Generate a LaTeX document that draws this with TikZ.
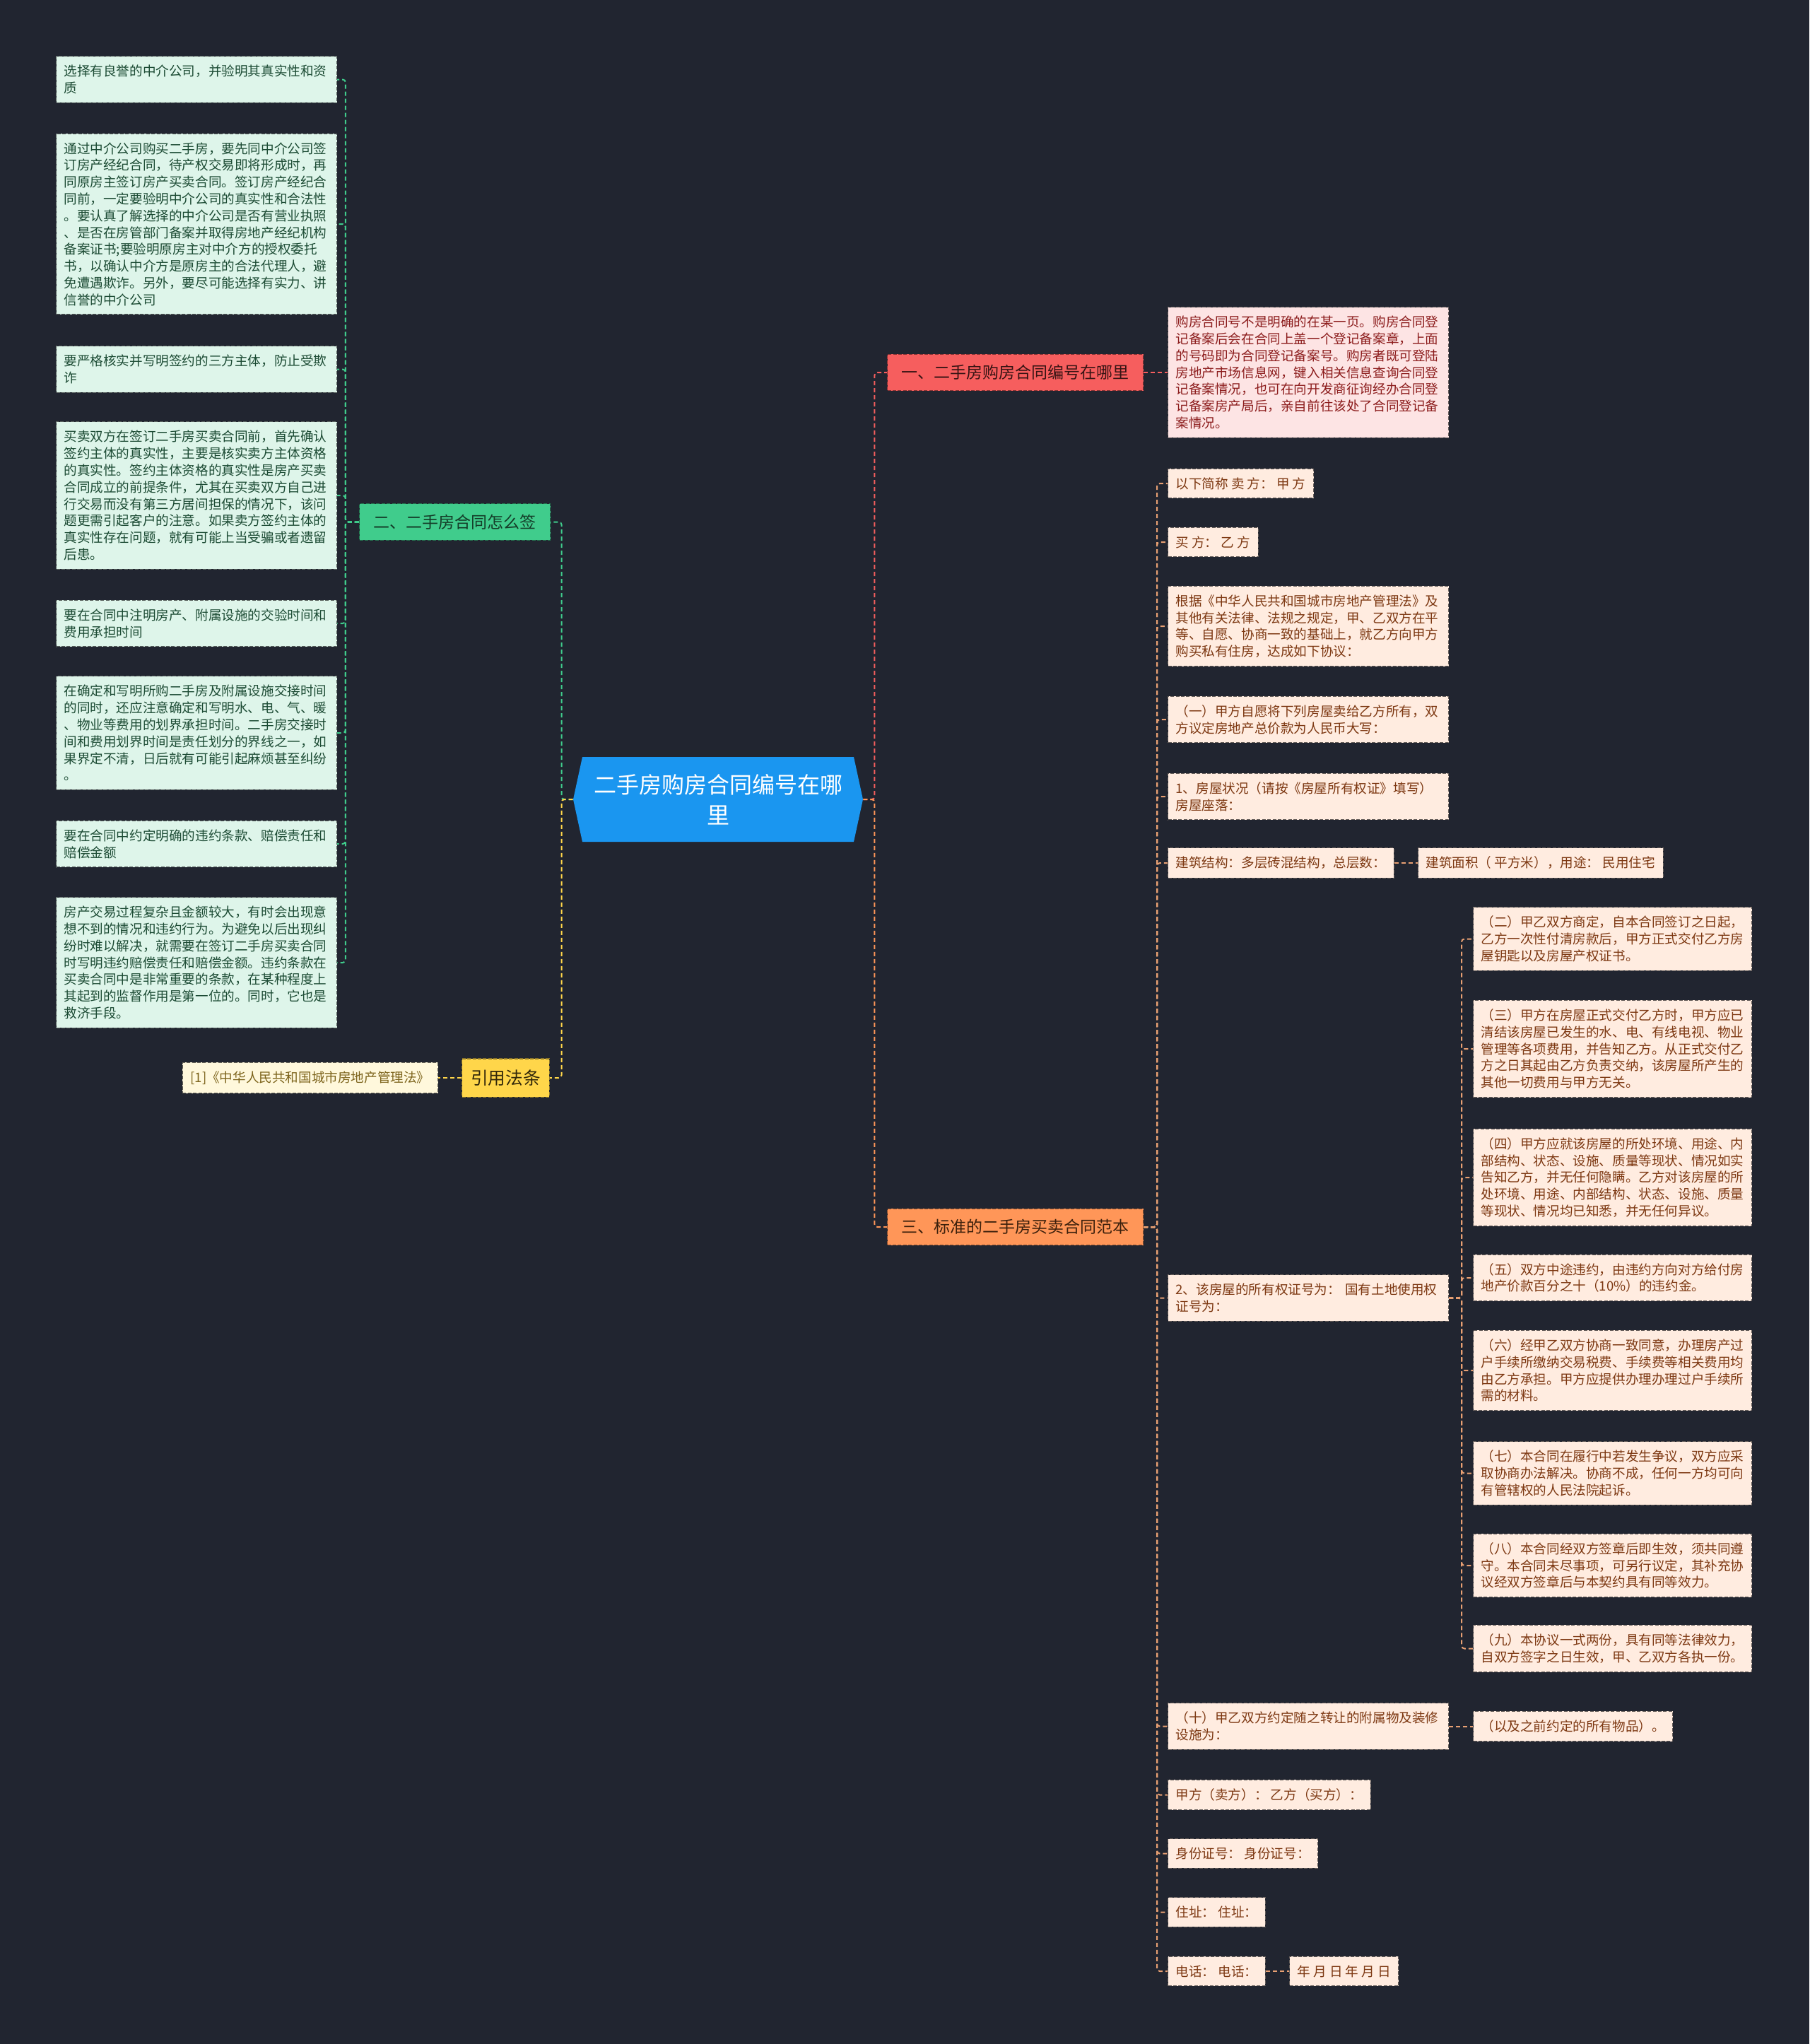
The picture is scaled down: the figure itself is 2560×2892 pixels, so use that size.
\documentclass[tikz,border=0pt]{standalone}
\usepackage{fontspec}
\setmainfont{Noto Sans CJK SC}
\definecolor{bgnavy}{RGB}{33,37,48}
\definecolor{rootblue}{RGB}{26,150,240}
\definecolor{redbranch}{RGB}{246,94,94}
\definecolor{greenbranch}{RGB}{64,204,140}
\definecolor{orangebranch}{RGB}{255,150,88}
\definecolor{yellowbranch}{RGB}{255,214,74}
\definecolor{pinkfill}{RGB}{253,228,228}
\definecolor{pinktext}{RGB}{140,28,28}
\definecolor{mintfill}{RGB}{222,245,234}
\definecolor{minttext}{RGB}{28,75,52}
\definecolor{peachfill}{RGB}{255,236,224}
\definecolor{peachtext}{RGB}{125,56,18}
\definecolor{peachline}{RGB}{232,160,115}
\definecolor{creamfill}{RGB}{255,248,220}
\definecolor{creamtext}{RGB}{125,100,28}
\newcommand{\leaffont}{\fontsize{9.3pt}{11.9pt}\selectfont}
\newcommand{\branchfont}{\fontsize{11.5pt}{14pt}\selectfont}
\newcommand{\rootfont}{\fontsize{16pt}{21.5pt}\selectfont}
\newcommand{\lawfont}{\fontsize{12.3pt}{15pt}\selectfont}

\begin{document}
\begin{tikzpicture}[x=0.5pt, y=-0.5pt]
    % Define styles
    \tikzstyle{leaf}=[rectangle, line width=0.5pt, dash pattern=on 2.5pt off 1.2pt, inner xsep=5.5pt, inner ysep=6.1pt, align=left, anchor=west, font=\leaffont]
    \tikzstyle{wide}=[leaf, text width=187.5pt]
    \tikzstyle{subwide}=[leaf, text width=186pt]
    \tikzstyle{gleaf}=[fill=mintfill, draw=mintfill!40!black, text=minttext]
    \tikzstyle{rleaf}=[fill=pinkfill, draw=pinkfill!40!black, text=pinktext]
    \tikzstyle{oleaf}=[fill=peachfill, draw=peachfill!40!black, text=peachtext]
    \tikzstyle{yleaf}=[fill=creamfill, draw=creamfill!40!black, text=creamtext]
    \tikzstyle{branch}=[rectangle, line width=0.6pt, dash pattern=on 2.5pt off 1.2pt, inner xsep=10pt, inner ysep=7.5pt, font=\branchfont]
    \tikzstyle{root}=[rectangle, minimum width=205pt, minimum height=60pt, text width=180pt, align=center, inner sep=0pt, text=white, font=\rootfont,
        path picture={\fill[rootblue] (path picture bounding box.west) -- ([xshift=6.5pt]path picture bounding box.north west) -- ([xshift=-6.5pt]path picture bounding box.north east) -- (path picture bounding box.east) -- ([xshift=-6.5pt]path picture bounding box.south east) -- ([xshift=6.5pt]path picture bounding box.south west) -- cycle;}]
    \tikzstyle{link}=[line width=1pt, dash pattern=on 3pt off 2pt, rounded corners=2pt]

    % Background
    \useasboundingbox (0,0) rectangle (2560,2892);
    \fill[bgnavy] (0,0) rectangle (2560,2892);

    % Centre and main branches
    \node[root] at (1016,1131) (root) {二手房购房合同编号在哪\\里};
    \node[branch, fill=redbranch, draw=redbranch!55!black, text={rgb,255:red,55;green,20;blue,20}] at (1436.5,527) (b1) {一、二手房购房合同编号在哪里};
    \node[branch, fill=greenbranch, draw=greenbranch!55!black, text={rgb,255:red,20;green,60;blue,40}] at (643.5,738.5) (b2) {二、二手房合同怎么签};
    \node[branch, fill=orangebranch, draw=orangebranch!55!black, text={rgb,255:red,60;green,32;blue,12}] at (1436.5,1736) (b3) {三、标准的二手房买卖合同范本};
    \node[branch, fill=yellowbranch, draw=yellowbranch!55!black, text={rgb,255:red,50;green,40;blue,10}, font=\lawfont, inner xsep=6.25pt, inner ysep=7.85pt] at (715.5,1525) (law) {引用法条};

    % Branch one
    \node[wide, rleaf] at (1652,527) (p1) {购房合同号不是明确的在某一页。购房合同登\\记备案后会在合同上盖一个登记备案章，上面\\的号码即为合同登记备案号。购房者既可登陆\\房地产市场信息网，键入相关信息查询合同登\\记备案情况，也可在向开发商征询经办合同登\\记备案房产局后，亲自前往该处了合同登记备\\案情况。};

    % Branch two
    \node[wide, gleaf] at (79,112.5) (g1) {选择有良誉的中介公司，并验明其真实性和资\\质};
    \node[wide, gleaf] at (79,317) (g2) {通过中介公司购买二手房，要先同中介公司签\\订房产经纪合同，待产权交易即将形成时，再\\同原房主签订房产买卖合同。签订房产经纪合\\同前，一定要验明中介公司的真实性和合法性\\。要认真了解选择的中介公司是否有营业执照\\、是否在房管部门备案并取得房地产经纪机构\\备案证书;要验明原房主对中介方的授权委托\\书，以确认中介方是原房主的合法代理人，避\\免遭遇欺诈。另外，要尽可能选择有实力、讲\\信誉的中介公司};
    \node[wide, gleaf] at (79,522.5) (g3) {要严格核实并写明签约的三方主体，防止受欺\\诈};
    \node[wide, gleaf] at (79,701) (g4) {买卖双方在签订二手房买卖合同前，首先确认\\签约主体的真实性，主要是核实卖方主体资格\\的真实性。签约主体资格的真实性是房产买卖\\合同成立的前提条件，尤其在买卖双方自己进\\行交易而没有第三方居间担保的情况下，该问\\题更需引起客户的注意。如果卖方签约主体的\\真实性存在问题，就有可能上当受骗或者遗留\\后患。};
    \node[wide, gleaf] at (79,882) (g5) {要在合同中注明房产、附属设施的交验时间和\\费用承担时间};
    \node[wide, gleaf] at (79,1037) (g6) {在确定和写明所购二手房及附属设施交接时间\\的同时，还应注意确定和写明水、电、气、暖\\、物业等费用的划界承担时间。二手房交接时\\间和费用划界时间是责任划分的界线之一，如\\果界定不清，日后就有可能引起麻烦甚至纠纷\\。};
    \node[wide, gleaf] at (79,1194) (g7) {要在合同中约定明确的违约条款、赔偿责任和\\赔偿金额};
    \node[wide, gleaf] at (79,1362) (g8) {房产交易过程复杂且金额较大，有时会出现意\\想不到的情况和违约行为。为避免以后出现纠\\纷时难以解决，就需要在签订二手房买卖合同\\时写明违约赔偿责任和赔偿金额。违约条款在\\买卖合同中是非常重要的条款，在某种程度上\\其起到的监督作用是第一位的。同时，它也是\\救济手段。};

    % Quoted law
    \node[leaf, yleaf, anchor=east] at (620,1525) (lawc) {[1]《中华人民共和国城市房地产管理法》};

    % Branch three
    \node[leaf, oleaf] at (1652,684) (c1) {以下简称 卖 方：  甲 方};
    \node[leaf, oleaf] at (1652,767) (c2) {买 方：  乙 方};
    \node[wide, oleaf] at (1652,886) (c3) {根据《中华人民共和国城市房地产管理法》及\\其他有关法律、法规之规定，甲、乙双方在平\\等、自愿、协商一致的基础上，就乙方向甲方\\购买私有住房，达成如下协议：};
    \node[wide, oleaf] at (1652,1018) (c4) {（一）甲方自愿将下列房屋卖给乙方所有，双\\方议定房地产总价款为人民币大写：};
    \node[wide, oleaf] at (1652,1127) (c5) {1、房屋状况（请按《房屋所有权证》填写）\\房屋座落：};
    \node[leaf, oleaf] at (1652,1221) (c6) {建筑结构：多层砖混结构，总层数：};
    \node[leaf, oleaf] at (2006,1221) (c6a) {建筑面积（ 平方米），用途： 民用住宅};
    \node[wide, oleaf] at (1652,1836.5) (c7) {2、该房屋的所有权证号为： 国有土地使用权\\证号为：};
    \node[subwide, oleaf] at (2084,1328.5) (s2) {（二）甲乙双方商定，自本合同签订之日起，\\乙方一次性付清房款后，甲方正式交付乙方房\\屋钥匙以及房屋产权证书。};
    \node[subwide, oleaf] at (2084,1484) (s3) {（三）甲方在房屋正式交付乙方时，甲方应已\\清结该房屋已发生的水、电、有线电视、物业\\管理等各项费用，并告知乙方。从正式交付乙\\方之日其起由乙方负责交纳，该房屋所产生的\\其他一切费用与甲方无关。};
    \node[subwide, oleaf] at (2084,1666) (s4) {（四）甲方应就该房屋的所处环境、用途、内\\部结构、状态、设施、质量等现状、情况如实\\告知乙方，并无任何隐瞒。乙方对该房屋的所\\处环境、用途、内部结构、状态、设施、质量\\等现状、情况均已知悉，并无任何异议。};
    \node[subwide, oleaf] at (2084,1808) (s5) {（五）双方中途违约，由违约方向对方给付房\\地产价款百分之十（10\%）的违约金。};
    \node[subwide, oleaf] at (2084,1939) (s6) {（六）经甲乙双方协商一致同意，办理房产过\\户手续所缴纳交易税费、手续费等相关费用均\\由乙方承担。甲方应提供办理办理过户手续所\\需的材料。};
    \node[subwide, oleaf] at (2084,2084.5) (s7) {（七）本合同在履行中若发生争议，双方应采\\取协商办法解决。协商不成，任何一方均可向\\有管辖权的人民法院起诉。};
    \node[subwide, oleaf] at (2084,2215) (s8) {（八）本合同经双方签章后即生效，须共同遵\\守。本合同未尽事项，可另行议定，其补充协\\议经双方签章后与本契约具有同等效力。};
    \node[subwide, oleaf] at (2084,2332.5) (s9) {（九）本协议一式两份，具有同等法律效力，\\自双方签字之日生效，甲、乙双方各执一份。};
    \node[wide, oleaf] at (1652,2442.5) (c8) {（十）甲乙双方约定随之转让的附属物及装修\\设施为：};
    \node[leaf, oleaf] at (2084,2442.5) (c8a) {（以及之前约定的所有物品）。};
    \node[leaf, oleaf] at (1652,2539.5) (c9) {甲方（卖方）： 乙方（买方）：};
    \node[leaf, oleaf] at (1652,2622.5) (c10) {身份证号： 身份证号：};
    \node[leaf, oleaf] at (1652,2705.5) (c11) {住址： 住址：};
    \node[leaf, oleaf] at (1652,2789) (c12) {电话： 电话：};
    \node[leaf, oleaf] at (1824,2789) (c12a) {年 月 日 年 月 日};

    % Connectors from the centre
    \draw[link, draw=redbranch] (root.east) -- ++(16,0) |- (b1.west);
    \draw[link, draw=orangebranch] (root.east) -- ++(16,0) |- (b3.west);
    \draw[link, draw=greenbranch] (root.west) -- ++(-16,0) |- (b2.east);
    \draw[link, draw=yellowbranch] (root.west) -- ++(-16,0) |- (law.east);

    % Connectors of the branches
    \draw[link, draw=redbranch] (b1.east) -- (p1.west);
    \draw[link, draw=yellowbranch] (law.west) -- (lawc.east);
    \draw[link, draw=greenbranch] (b2.west) -- ++(-19,0) |- (g1.east);
    \draw[link, draw=greenbranch] (b2.west) -- ++(-19,0) |- (g2.east);
    \draw[link, draw=greenbranch] (b2.west) -- ++(-19,0) |- (g3.east);
    \draw[link, draw=greenbranch] (b2.west) -- ++(-19,0) |- (g4.east);
    \draw[link, draw=greenbranch] (b2.west) -- ++(-19,0) |- (g5.east);
    \draw[link, draw=greenbranch] (b2.west) -- ++(-19,0) |- (g6.east);
    \draw[link, draw=greenbranch] (b2.west) -- ++(-19,0) |- (g7.east);
    \draw[link, draw=greenbranch] (b2.west) -- ++(-19,0) |- (g8.east);
    \draw[link, draw=peachline] (b3.east) -- ++(19,0) |- (c1.west);
    \draw[link, draw=peachline] (b3.east) -- ++(19,0) |- (c2.west);
    \draw[link, draw=peachline] (b3.east) -- ++(19,0) |- (c3.west);
    \draw[link, draw=peachline] (b3.east) -- ++(19,0) |- (c4.west);
    \draw[link, draw=peachline] (b3.east) -- ++(19,0) |- (c5.west);
    \draw[link, draw=peachline] (b3.east) -- ++(19,0) |- (c6.west);
    \draw[link, draw=peachline] (b3.east) -- ++(19,0) |- (c7.west);
    \draw[link, draw=peachline] (b3.east) -- ++(19,0) |- (c8.west);
    \draw[link, draw=peachline] (b3.east) -- ++(19,0) |- (c9.west);
    \draw[link, draw=peachline] (b3.east) -- ++(19,0) |- (c10.west);
    \draw[link, draw=peachline] (b3.east) -- ++(19,0) |- (c11.west);
    \draw[link, draw=peachline] (b3.east) -- ++(19,0) |- (c12.west);
    \draw[link, draw=peachline] (c6.east) -- (c6a.west);
    \draw[link, draw=peachline] (c8.east) -- (c8a.west);
    \draw[link, draw=peachline] (c12.east) -- (c12a.west);
    \draw[link, draw=peachline] (c7.east) -- ++(18,0) |- (s2.west);
    \draw[link, draw=peachline] (c7.east) -- ++(18,0) |- (s3.west);
    \draw[link, draw=peachline] (c7.east) -- ++(18,0) |- (s4.west);
    \draw[link, draw=peachline] (c7.east) -- ++(18,0) |- (s5.west);
    \draw[link, draw=peachline] (c7.east) -- ++(18,0) |- (s6.west);
    \draw[link, draw=peachline] (c7.east) -- ++(18,0) |- (s7.west);
    \draw[link, draw=peachline] (c7.east) -- ++(18,0) |- (s8.west);
    \draw[link, draw=peachline] (c7.east) -- ++(18,0) |- (s9.west);
\end{tikzpicture}
\end{document}
